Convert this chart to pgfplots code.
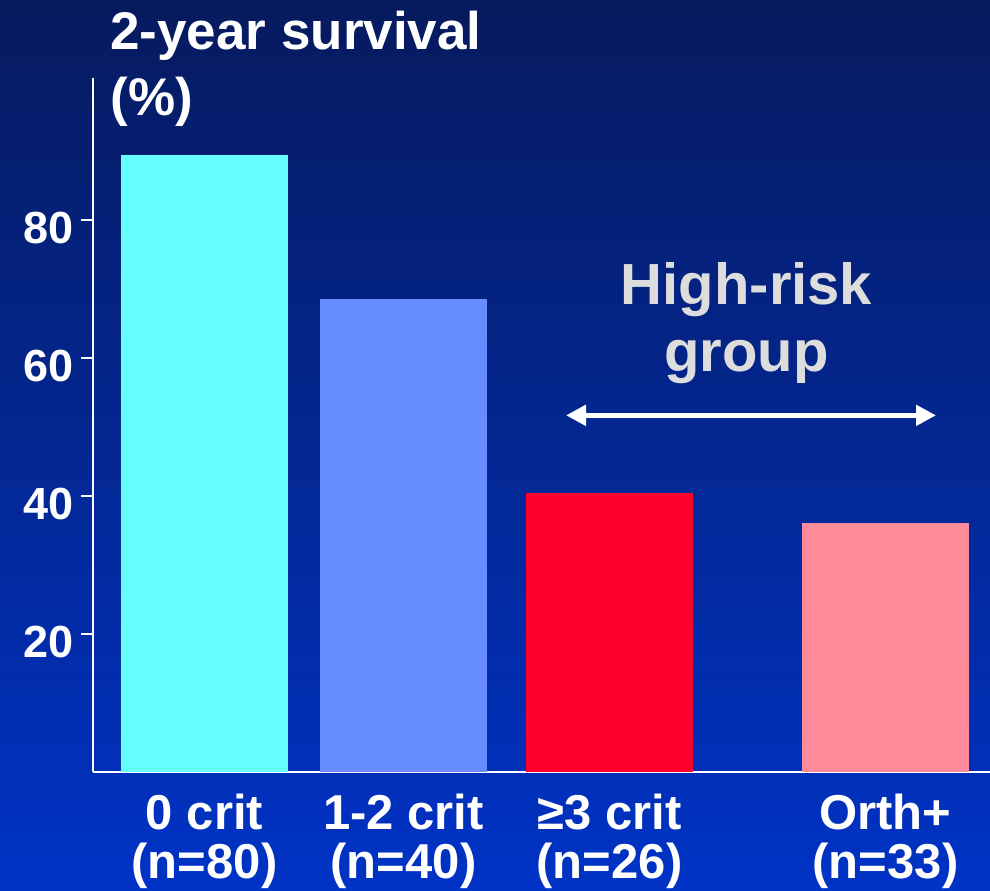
\documentclass[border=0pt]{standalone}
\usepackage{fontspec}
\setmainfont{Liberation Sans}
\usepackage{pgfplots}
\pgfplotsset{compat=1.18}
\usetikzlibrary{arrows.meta}

\definecolor{bgtop}{HTML}{061A5E}
\definecolor{bgmid}{HTML}{00279E}
\definecolor{bgbot}{HTML}{0033C6}
\definecolor{barA}{HTML}{66FFFF}
\definecolor{barB}{HTML}{668CFF}
\definecolor{barC}{HTML}{FF002E}
\definecolor{barD}{HTML}{FF8A9A}
\definecolor{note}{HTML}{DDDDDD}

\begin{document}
\begin{tikzpicture}
% slide background
\shade[top color=bgtop, middle color=bgmid, bottom color=bgbot] (0,0) rectangle (495pt,445pt);

\begin{axis}[
    at={(46.5pt,59pt)}, anchor=south west,
    scale only axis,
    width=448.5pt, height=347pt,
    xmin=93, xmax=990,
    ymin=0, ymax=100.6,
    clip=false,
    axis x line=bottom, axis y line=left,
    axis line style={white, line width=1pt, -},
    xtick={204.5,403.5,609.5,885.5},
    xticklabels={{0 crit\\(n=80)},{1-2 crit\\(n=40)},{≥3 crit\\(n=26)},{Orth+\\(n=33)}},
    xtick style={draw=none},
    xticklabel style={align=center, text=white, yshift=-1.5pt,
        font=\fontsize{24.5}{24.5}\selectfont\bfseries},
    ytick={20,40,60,80},
    ytick style={white, line width=1pt},
    tick align=outside,
    major tick length=6pt,
    yticklabel style={text=white, yshift=-4pt,
        font=\fontsize{22.5}{27}\selectfont\bfseries},
    /pgf/number format/assume math mode=true,
]
\addplot[ybar, bar shift=0pt, bar width=167, fill=barA, draw=none] coordinates {(204.5,89.5)};
\addplot[ybar, bar shift=0pt, bar width=167, fill=barB, draw=none] coordinates {(403.5,68.5)};
\addplot[ybar, bar shift=0pt, bar width=167, fill=barC, draw=none] coordinates {(609.5,40.5)};
\addplot[ybar, bar shift=0pt, bar width=167, fill=barD, draw=none] coordinates {(885.5,36.1)};

% y label as a slide title
\node[anchor=base west, text=white, font=\fontsize{26.5}{30}\selectfont\bfseries, inner sep=0pt]
    at (axis cs:110,104.8) {2-year survival};
\node[anchor=base west, text=white, font=\fontsize{26.5}{30}\selectfont\bfseries, inner sep=0pt]
    at (axis cs:110,95.2) {(\%)};

% high-risk annotation
\node[anchor=base, text=note, font=\fontsize{29}{33}\selectfont\bfseries, inner sep=0pt]
    at (axis cs:746.5,67.7) {High-risk};
\node[anchor=base, text=note, font=\fontsize{29}{33}\selectfont\bfseries, inner sep=0pt]
    at (axis cs:746.5,58.0) {group};
\draw[white, line width=2.8pt, {Triangle[length=10pt,width=10pt]}-{Triangle[length=10pt,width=10pt]}]
    (axis cs:566,51.7) -- (axis cs:936,51.7);
\end{axis}

\pgfresetboundingbox
\path[use as bounding box] (0,0) rectangle (495pt,445pt);
\end{tikzpicture}
\end{document}
